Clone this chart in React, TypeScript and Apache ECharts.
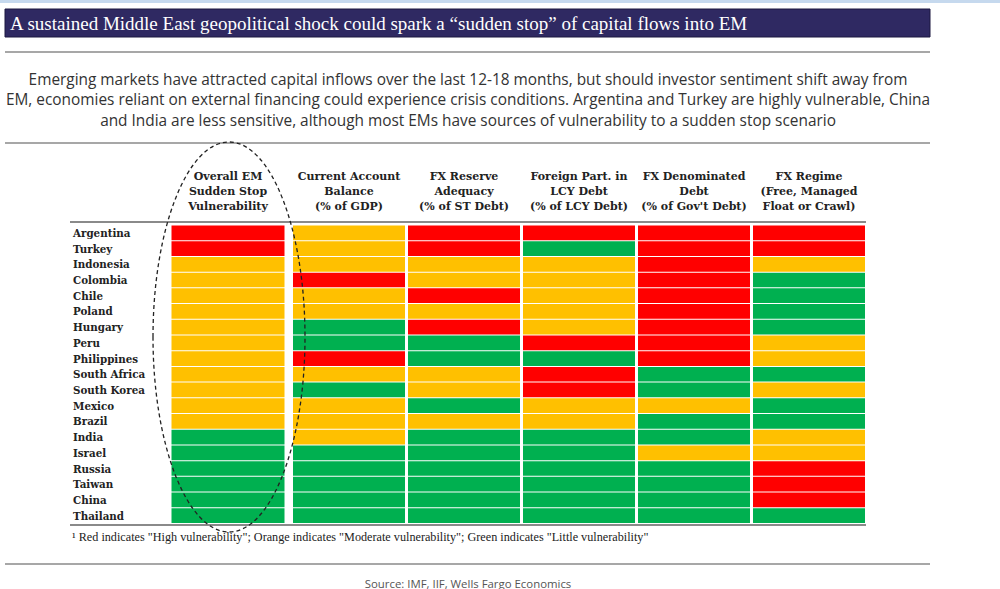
import React, { useEffect, useRef } from "react";
import * as echarts from "echarts";

const countries = [
  "Argentina", "Turkey", "Indonesia", "Colombia", "Chile", "Poland", "Hungary", "Peru",
  "Philippines", "South Africa", "South Korea", "Mexico", "Brazil", "India", "Israel",
  "Russia", "Taiwan", "China", "Thailand",
];

// 2 = High vulnerability (red), 1 = Moderate (orange), 0 = Little (green)
const overall = [2, 2, 1, 1, 1, 1, 1, 1, 1, 1, 1, 1, 1, 0, 0, 0, 0, 0, 0];
const currentAccount = [1, 1, 1, 2, 1, 1, 0, 0, 2, 1, 0, 1, 1, 1, 0, 0, 0, 0, 0];
const fxReserve = [2, 2, 1, 1, 2, 1, 2, 0, 0, 1, 1, 0, 1, 0, 0, 0, 0, 0, 0];
const foreignPart = [2, 0, 1, 1, 1, 1, 1, 2, 0, 2, 2, 1, 1, 0, 0, 0, 0, 0, 0];
const fxDebt = [2, 2, 2, 2, 2, 2, 2, 2, 2, 0, 0, 1, 0, 0, 1, 0, 0, 0, 0];
const fxRegime = [2, 2, 1, 0, 0, 0, 0, 1, 1, 0, 1, 0, 0, 1, 1, 2, 2, 2, 0];

const overallHeader = ["Overall EM\nSudden Stop\nVulnerability"];
const indicatorHeaders = [
  "Current Account\nBalance\n(% of GDP)",
  "FX Reserve\nAdequacy\n(% of ST Debt)",
  "Foreign Part. in\nLCY Debt\n(% of LCY Debt)",
  "FX Denominated\nDebt\n(% of Gov't Debt)",
  "FX Regime\n(Free, Managed\nFloat or Crawl)",
];
const indicatorColumns = [currentAccount, fxReserve, foreignPart, fxDebt, fxRegime];

const levelColors = ["#00B050", "#FFC000", "#FF0000"];

const titleText =
  "A sustained Middle East geopolitical shock could spark a \u201csudden stop\u201d of capital flows into EM";
const subtitleLines = [
  "Emerging markets have attracted capital inflows over the last 12-18 months, but should investor sentiment shift away from",
  "EM, economies reliant on external financing could experience crisis conditions. Argentina and Turkey are highly vulnerable, China",
  "and India are less sensitive, although most EMs have sources of vulnerability to a sudden stop scenario",
];
const footnoteText =
  "\u00b9 Red indicates \"High vulnerability\"; Orange indicates \"Moderate vulnerability\"; Green indicates \"Little vulnerability\"";
const sourceText = "Source: IMF, IIF, Wells Fargo Economics";

const HEADER_FONT = "'DejaVu Serif', serif";

function makeRenderItem(gapX: number, gapY: number) {
  return (params: any, api: any) => {
    const c = api.coord([api.value(0), api.value(1)]);
    const s = api.size([1, 1]);
    return {
      type: "rect",
      shape: {
        x: c[0] - s[0] / 2 + gapX,
        y: c[1] - s[1] / 2 + gapY,
        width: s[0] - 2 * gapX,
        height: s[1] - 2 * gapY,
      },
      style: { fill: levelColors[api.value(2)] },
    };
  };
}

export default function App() {
  const ref = useRef<HTMLDivElement>(null);

  useEffect(() => {
    if (!ref.current) return;
    const chart = echarts.init(ref.current, null, { renderer: "svg" });

    const overallData = overall.map((v, i) => [0, i, v]);
    const indicatorData: number[][] = [];
    indicatorColumns.forEach((col, ci) => col.forEach((v, ri) => indicatorData.push([ci, ri, v])));

    const headerLabel = {
      fontFamily: HEADER_FONT,
      fontWeight: "bold" as const,
      fontSize: 11,
      lineHeight: 15,
      color: "#222",
      margin: 11,
      interval: 0,
    };

    const lineStyle = { stroke: "#8a8a8a", lineWidth: 1.5 };

    chart.setOption({
      animation: false,
      backgroundColor: "#ffffff",
      grid: [
        { left: 171.5, width: 113, top: 225, height: 298.5 },
        { left: 291.5, width: 575, top: 225, height: 298.5 },
      ],
      xAxis: [
        {
          gridIndex: 0,
          type: "category",
          position: "top",
          data: overallHeader,
          axisLine: { show: false },
          axisTick: { show: false },
          axisLabel: headerLabel,
        },
        {
          gridIndex: 1,
          type: "category",
          position: "top",
          data: indicatorHeaders,
          axisLine: { show: false },
          axisTick: { show: false },
          axisLabel: headerLabel,
        },
      ],
      yAxis: [
        {
          gridIndex: 0,
          type: "category",
          inverse: true,
          data: countries,
          axisLine: { show: false },
          axisTick: { show: false },
          axisLabel: {
            align: "left",
            margin: 98.5,
            fontFamily: HEADER_FONT,
            fontWeight: "bold",
            fontSize: 10.3,
            color: "#222",
            interval: 0,
          },
        },
        {
          gridIndex: 1,
          type: "category",
          inverse: true,
          data: countries,
          show: false,
        },
      ],
      series: [
        {
          type: "custom",
          xAxisIndex: 0,
          yAxisIndex: 0,
          data: overallData,
          renderItem: makeRenderItem(0, 0.5),
        },
        {
          type: "custom",
          xAxisIndex: 1,
          yAxisIndex: 1,
          data: indicatorData,
          renderItem: makeRenderItem(1.5, 0.5),
        },
      ],
      graphic: [
        { type: "rect", shape: { x: 0, y: 0, width: 1000, height: 3 }, style: { fill: "#c6d9ee" } },
        {
          type: "rect",
          shape: { x: 5, y: 9, width: 925, height: 28 },
          style: { fill: "#2f2962", stroke: "#1c1840", lineWidth: 1 },
        },
        {
          type: "text",
          x: 10,
          y: 23,
          style: {
            text: titleText,
            fill: "#ffffff",
            font: "19px 'Liberation Serif', serif",
            verticalAlign: "middle",
          },
        },
        { type: "line", shape: { x1: 5, y1: 52, x2: 930, y2: 52 }, style: lineStyle },
        ...subtitleLines.map((t, i) => ({
          type: "text",
          x: 468,
          y: 79.5 + i * 20.3,
          style: {
            text: t,
            fill: "#333333",
            font: "15.4px 'Open Sans', sans-serif",
            align: "center",
            verticalAlign: "middle",
          },
        })),
        { type: "line", shape: { x1: 5, y1: 143, x2: 930, y2: 143 }, style: lineStyle },
        { type: "line", shape: { x1: 70, y1: 222, x2: 866, y2: 222 }, style: { stroke: "#8a8a8a", lineWidth: 2 } },
        { type: "line", shape: { x1: 70, y1: 525, x2: 866, y2: 525 }, style: { stroke: "#8a8a8a", lineWidth: 2 } },
        {
          type: "ellipse",
          z: 100,
          shape: { cx: 229, cy: 337, rx: 76, ry: 195 },
          style: { fill: "none", stroke: "#222", lineWidth: 1.3, lineDash: [4, 3] },
        },
        {
          type: "text",
          x: 72,
          y: 537,
          style: {
            text: footnoteText,
            fill: "#222",
            font: "12.2px 'Liberation Serif', serif",
            verticalAlign: "middle",
          },
        },
        { type: "line", shape: { x1: 5, y1: 564, x2: 930, y2: 564 }, style: lineStyle },
        {
          type: "text",
          x: 468,
          y: 583,
          style: {
            text: sourceText,
            fill: "#555",
            font: "11.4px 'Open Sans', sans-serif",
            align: "center",
            verticalAlign: "middle",
          },
        },
      ],
    });

    return () => chart.dispose();
  }, []);

  return (
    <div
      ref={ref}
      style={{ position: "fixed", left: 0, top: 0, width: 1000, height: 589 }}
    />
  );
}
